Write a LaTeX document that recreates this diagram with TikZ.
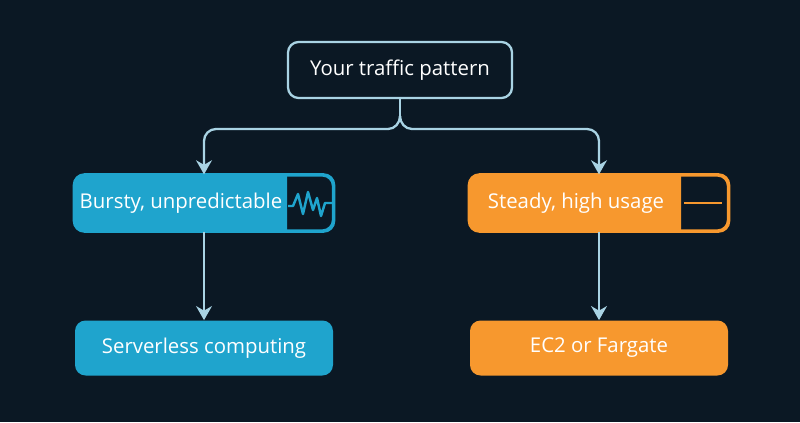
\documentclass[tikz,border=0pt]{standalone}
\usepackage{fontspec}
\setmainfont{Open Sans}
\usetikzlibrary{positioning, arrows.meta}
\definecolor{bgc}{HTML}{0B1824}
\definecolor{linec}{HTML}{A9D3E4}
\definecolor{burst}{HTML}{1FA4CD}
\definecolor{steady}{HTML}{F7982E}
\tikzset{
  box/.style={rounded corners=6pt, minimum width=258*0.02cm, minimum height=55*0.02cm, font=\fontsize{11.6}{14}\selectfont, text=white, inner sep=0pt},
  conn/.style={draw=linec, line width=1.3pt},
  arr/.style={conn, -{Stealth[length=8pt, width=9pt]}}
}
\begin{document}
\begin{tikzpicture}[x=0.02cm, y=-0.02cm]
        % Background
        \fill[bgc] (0,0) rectangle (800,422);
        \useasboundingbox (0,0) rectangle (800,422);

        % Nodes
        \node[box, draw=linec, line width=1.3pt, minimum width=224*0.02cm, minimum height=56*0.02cm] (top) at (400,70) {Your traffic pattern};
        \node[box, draw=burst, line width=1.3pt] (burst) at (204,203) {};
        \node[box, draw=steady, line width=1.3pt] (steady) at (599,203) {};
        \node[box, fill=burst] (serverless) at (204,348) {Serverless computing};
        \node[box, fill=steady] (ec2) at (599,348) {EC2 or Fargate};

        % Coloured parts of the middle boxes
        \fill[burst] (287,176) [rounded corners=6pt] -- (75,176) -- (75,230) [sharp corners] -- (287,230) -- cycle;
        \fill[steady] (681,176) [rounded corners=6pt] -- (470,176) -- (470,230) [sharp corners] -- (681,230) -- cycle;
        \draw[burst, line width=1.3pt, rounded corners=6pt] (burst.north west) rectangle (burst.south east);
        \draw[steady, line width=1.3pt, rounded corners=6pt] (steady.north west) rectangle (steady.south east);
        \node[font=\fontsize{11.6}{14}\selectfont, text=white] (bursttxt) at (181,203) {Bursty, unpredictable};
        \node[font=\fontsize{11.6}{14}\selectfont, text=white] (steadytxt) at (576,203) {Steady, high usage};

        % Icons
        \draw[burst, line width=1.4pt, line join=round] (288,206) -- (293,206) -- (298,194) -- (303,214) -- (308,192) -- (313,210) -- (317,198) -- (321,216) -- (325,203) -- (332,203);
        \draw[steady, line width=1.4pt] (684,203) -- (722,203);

        % Lines
        \coordinate (split) at (400,116);
        \draw[conn] (top.south) -- (split);
        \draw[arr] (split) to[out=-90, in=0] (388,129) -- (216,129) to[out=180, in=90] (204,141) -- (burst.north);
        \draw[arr] (split) to[out=-90, in=180] (412,129) -- (587,129) to[out=0, in=90] (599,141) -- (steady.north);
        \draw[arr] (burst.south) -- (serverless.north);
        \draw[arr] (steady.south) -- (ec2.north);
\end{tikzpicture}
\end{document}
